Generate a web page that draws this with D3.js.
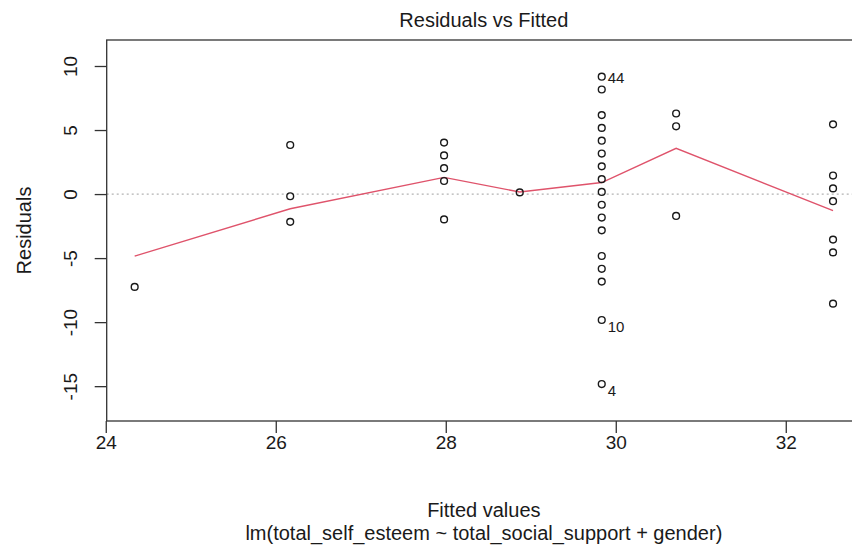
<!DOCTYPE html>
<html>
<head>
<meta charset="utf-8">
<script src="https://cdn.jsdelivr.net/npm/d3@7"></script>
<style>
  body { margin: 0; background: #fff; }
  svg text { font-family: "Liberation Sans", Arial, sans-serif; fill: #1a1a1a; }
</style>
</head>
<body>
<svg id="chart" width="852" height="552"></svg>
<script>
// fitted value of each group, and the residuals sitting on it
var fittedLevels = [24.34, 26.17, 27.98, 28.87, 29.835, 30.71, 32.556];
var residualsByLevel = [
  [-7.25],
  [3.83, -0.17, -2.17],
  [4.02, 3.02, 2.02, 1.02, -1.98],
  [0.13],
  [9.165, 8.165, 6.165, 5.165, 4.165, 3.165, 2.165, 1.165, 0.165, -0.835, -1.835, -2.835, -4.835, -5.835, -6.835, -9.835, -14.835],
  [6.29, 5.29, -1.71],
  [5.444, 1.444, 0.444, -0.556, -3.556, -4.556, -8.556]
];
// lowess smooth, read at each fitted level
var smoothValues = [-4.84, -1.15, 1.30, 0.16, 0.90, 3.57, -1.30];
// flagged observations
var idLabels = ['44', '10', '4'];
var idFitted = [29.835, 29.835, 29.835];
var idResid = [9.165, -9.835, -14.835];

var xTicks = [24, 26, 28, 30, 32];
var yTicks = [-15, -10, -5, 0, 5, 10];
var xDomain = [24.011, 32.885];
var yDomain = [-17.72, 12.03];

// the plot region runs a little past the right edge of the picture
var
  margin = {top: 40, right: -9, bottom: 131, left: 106.7},
  svg = d3.select('#chart'),
  width = +svg.attr('width') - margin.left - margin.right,
  height = +svg.attr('height') - margin.top - margin.bottom,
  xScale = d3.scaleLinear().domain(xDomain).range([0, width]),
  yScale = d3.scaleLinear().domain(yDomain).range([height, 0]),
  g = svg.append('g').attr('transform', 'translate(' + margin.left + ',' + margin.top + ')')
  ;

var points = [];
fittedLevels.forEach((f, i) => {
  residualsByLevel[i].forEach(r => points.push({fitted: f, resid: r}));
});

// zero reference
g.append('line')
  .attr('x1', 0).attr('x2', width)
  .attr('y1', yScale(0)).attr('y2', yScale(0))
  .style('stroke', '#b3b3b3')
  .style('stroke-width', 1.2)
  .style('stroke-dasharray', '2,3');

var line = d3.line()
  .x((d, i) => xScale(fittedLevels[i]))
  .y(d => yScale(d));

g.append('path')
  .attr('d', line(smoothValues))
  .style('fill', 'none')
  .style('stroke', '#DF536B')
  .style('stroke-width', 1.4);

g.selectAll('circle')
  .data(points)
  .enter()
  .append('circle')
  .attr('cx', d => xScale(d.fitted))
  .attr('cy', d => yScale(d.resid))
  .attr('r', 3.4)
  .style('fill', 'none')
  .style('stroke', '#1a1a1a')
  .style('stroke-width', 1.4);

g.selectAll('.idlab')
  .data(idLabels)
  .enter()
  .append('text')
  .attr('class', 'idlab')
  .attr('x', (d, i) => xScale(idFitted[i]) + 6)
  .attr('y', (d, i) => yScale(idResid[i]) + (idResid[i] < 0 ? 12 : 6))
  .style('font-size', '15px')
  .text(d => d);

// axes, R style: ticks outside, labels below / rotated on the left
var xAxis = d3.axisBottom(xScale).tickValues(xTicks).tickSize(12).tickPadding(6).tickFormat(d3.format('d'));
var yAxis = d3.axisLeft(yScale).tickValues(yTicks).tickSize(12).tickPadding(8).tickFormat(d => d3.format('d')(d).replace('−', '-'));

var gx = g.append('g')
  .attr('transform', 'translate(0,' + height + ')')
  .call(xAxis);
gx.select('.domain').remove();
gx.selectAll('line').style('stroke', '#333').style('stroke-width', 1.3);
gx.selectAll('text').style('font-size', '19px').attr('dy', '0.5em');

var gy = g.append('g').call(yAxis);
gy.select('.domain').remove();
gy.selectAll('line').style('stroke', '#333').style('stroke-width', 1.3);
gy.selectAll('text')
  .style('font-size', '19px')
  .style('text-anchor', 'middle')
  .attr('x', null).attr('dy', null)
  .attr('transform', 'translate(-30,0) rotate(-90)')
  .attr('y', 0);

// box (its right side falls outside the picture)
g.append('rect')
  .attr('width', width).attr('height', height)
  .style('fill', 'none')
  .style('stroke', '#333')
  .style('stroke-width', 1.3);

svg.append('text')
  .attr('x', margin.left + width / 2).attr('y', 27)
  .attr('text-anchor', 'middle')
  .style('font-size', '20px')
  .text('Residuals vs Fitted');

svg.append('text')
  .attr('x', margin.left + width / 2).attr('y', 517)
  .attr('text-anchor', 'middle')
  .style('font-size', '20px')
  .text('Fitted values');

svg.append('text')
  .attr('x', margin.left + width / 2).attr('y', 540)
  .attr('text-anchor', 'middle')
  .style('font-size', '20px')
  .text('lm(total_self_esteem ~ total_social_support + gender)');

svg.append('text')
  .attr('transform', 'translate(31,' + (margin.top + height / 2) + ') rotate(-90)')
  .attr('text-anchor', 'middle')
  .style('font-size', '20px')
  .text('Residuals');
</script>
</body>
</html>
